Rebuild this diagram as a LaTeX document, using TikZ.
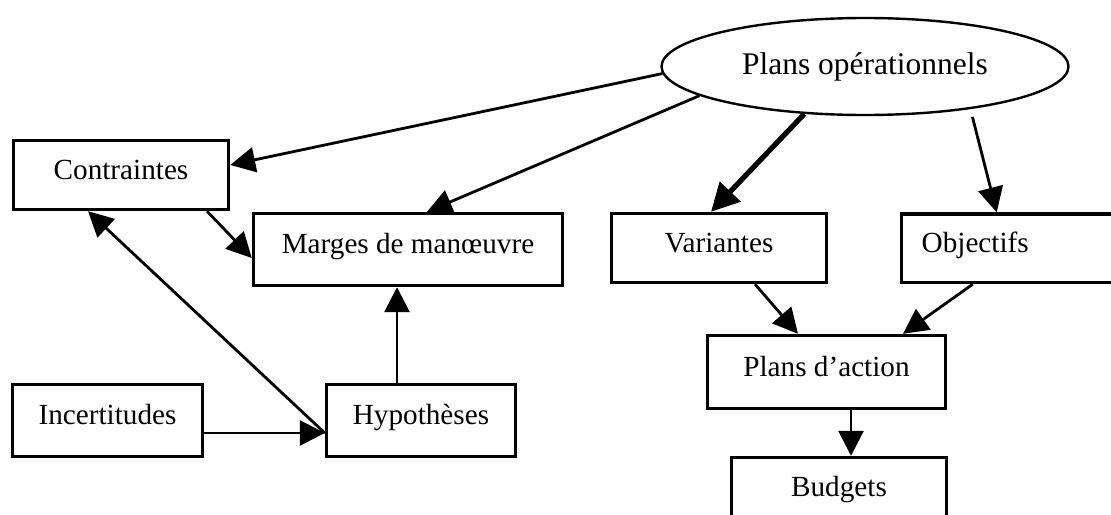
\documentclass[tikz,border=0pt]{standalone}
\usepackage{fontspec}
\setmainfont{Liberation Serif}
\usetikzlibrary{arrows.meta,shapes.geometric}
\begin{document}
\begin{tikzpicture}[x=0.5pt,y=-0.5pt,
  box/.style={draw, line width=1.7pt, rectangle, inner sep=0pt,
    font=\fontsize{14.6}{17}\selectfont, text height=8.2pt, text depth=4pt},
  oval/.style={draw, line width=1.2pt, ellipse, inner sep=0pt,
    font=\fontsize{15.75}{18}\selectfont, text height=10.4pt, text depth=2pt},
  link/.style={line width=1.4pt, -{Triangle[length=12.5pt,width=12.5pt]}},
  biglink/.style={line width=2.6pt, -{Triangle[length=14pt,width=14pt]}}]
\fill[white] (0,0) rectangle (1111,514);
\useasboundingbox (0,0) rectangle (1111,514);
\clip (0,0) rectangle (1111,514);

% top-level node
\node[oval, minimum width=203.5pt, minimum height=48.5pt] (plans) at (865,66.5) {Plans opérationnels};

% boxes
\node[box, minimum width=107.5pt, minimum height=34.5pt] (con) at (121,175) {Contraintes};
\node[box, minimum width=154.5pt, minimum height=36pt] (mar) at (408,249.5) {Marges de manœuvre};
\node[box, minimum width=107.5pt, minimum height=34.5pt] (var) at (719,248) {Variantes};
\node[box, anchor=west, inner xsep=10.25pt, text width=94.5pt, align=left,
      minimum height=34.25pt] (obj) at (899.5,248.25) {Objectifs};
\node[box, minimum width=119pt, minimum height=36.5pt] (pda) at (826.5,372) {Plans d’action};
\node[box, minimum width=95pt, minimum height=36pt] (inc) at (107.5,420.5) {Incertitudes};
\node[box, minimum width=94.5pt, minimum height=36pt] (hyp) at (421,420.5) {Hypothèses};
\node[box, minimum width=107.5pt, minimum height=34.5pt] (bud) at (839,492) {Budgets};

% connectors
\draw[link] (plans.182) -- ([yshift=5pt]con.east);
\draw[link] (plans.190) -- ([xshift=9.5pt]mar.north);
\draw[biglink] (plans.218) -- ([xshift=-4pt]var.north);
\draw[link, shorten <=4pt] (plans.338) -- ([xshift=-9.75pt]obj.north);
\draw[link] ([xshift=43pt]con.south) -- ([yshift=-4.25pt]mar.west);
\draw[link] ([yshift=-6.25pt]hyp.west) -- ([xshift=-16.5pt]con.south);
\draw[link] ([yshift=-6.25pt]inc.east) -- ([yshift=-6.25pt]hyp.west);
\draw[link] ([xshift=-12pt]hyp.north) -- ([xshift=-5.5pt]mar.south);
\draw[link] ([xshift=18pt]var.south) -- ([xshift=-14.25pt]pda.north);
\draw[link] ([xshift=-21.75pt]obj.south) -- ([xshift=38.25pt]pda.north);
\draw[link] ([xshift=12.25pt]pda.south) -- ([xshift=6pt]bud.north);
\end{tikzpicture}
\end{document}
